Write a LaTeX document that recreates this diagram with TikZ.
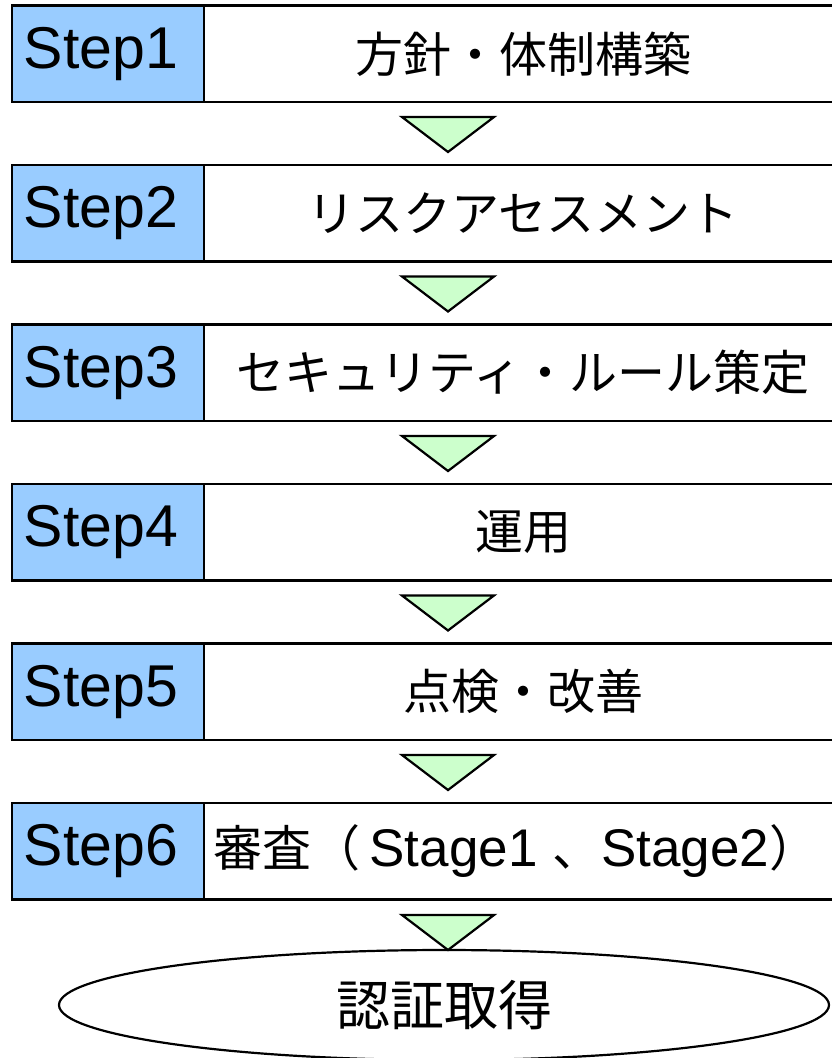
\documentclass[tikz,border=0pt]{standalone}
\usepackage{fontspec}
\setmainfont{Liberation Sans}
\newfontfamily\cjk{Noto Sans CJK JP}
\usetikzlibrary{shapes.geometric}
\definecolor{stepblue}{HTML}{99CCFF}
\definecolor{trigreen}{HTML}{CCFFCC}
\tikzset{
  stepbox/.style={draw=black, line width=2.4pt, fill=stepblue, minimum width=192pt, minimum height=96.5pt, inner sep=0pt, font=\fontsize{59}{64}\selectfont},
  contentbox/.style={draw=black, line width=2.4pt, fill=white, minimum width=638pt, minimum height=96.5pt, inner sep=0pt, font=\fontsize{48}{56}\selectfont\cjk},
  tri/.style={draw=black, line width=2.2pt, fill=trigreen, line join=miter},
  goal/.style={draw=black, line width=2.2pt, fill=white, ellipse, minimum width=770pt, minimum height=110pt, inner sep=0pt, font=\fontsize{54}{60}\selectfont\cjk}
}
\begin{document}
\begin{tikzpicture}[x=1pt,y=-1pt]
\useasboundingbox (0,0) rectangle (832,1058);
% steps
\foreach \i/\txt in {1/{方針・体制構築},2/{リスクアセスメント},3/{セキュリティ・ルール策定},4/{運用},5/{点検・改善}}{
  \pgfmathsetmacro{\yc}{53.75+159.5*(\i-1)}
  \node[contentbox] (c\i) at (523,\yc) {\txt};
  \node[stepbox] (s\i) at (108,\yc) {\makebox[192pt][c]{Step\i\hspace*{14pt}}};
}
\node[contentbox, font=\fontsize{53}{60}\selectfont] (c6) at (523,851.25) {{\cjk\fontsize{49}{56}\selectfont 審査（}\,Stage1 {\cjk\fontsize{49}{56}\selectfont 、}Stage2{\cjk\fontsize{49}{56}\selectfont ）}\hspace*{14pt}};
\node[stepbox] (s6) at (108,851.25) {\makebox[192pt][c]{Step6\hspace*{14pt}}};
% triangles
\foreach \i in {1,...,5}{
  \pgfmathsetmacro{\yt}{117+159.5*(\i-1)}
  \pgfmathsetmacro{\yb}{\yt+35}
  \draw[tri] (402,\yt) -- (494,\yt) -- (448,\yb) -- cycle;
}
\node[goal] (g) at (444,1005) {認証取得};
\draw[tri] (402,915) -- (494,915) -- (448,950) -- cycle;
\end{tikzpicture}
\end{document}
